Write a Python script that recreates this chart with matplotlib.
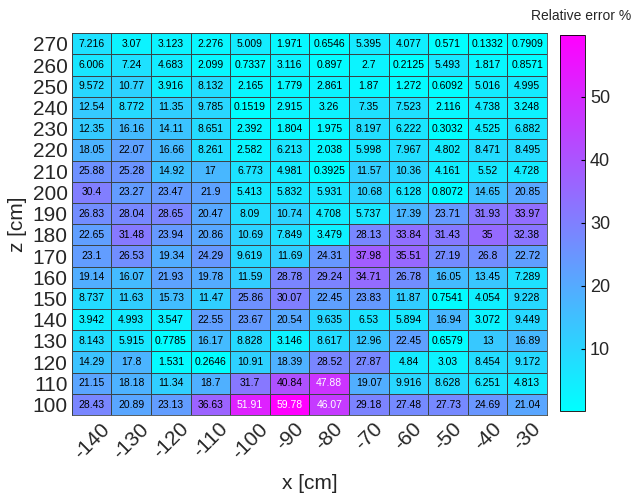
import numpy as np
import matplotlib.pyplot as plt

plt.rcParams['font.family'] = ['Liberation Sans', 'DejaVu Sans']

x_cm = [-140, -130, -120, -110, -100, -90, -80, -70, -60, -50, -40, -30]
z_cm = [100, 110, 120, 130, 140, 150, 160, 170, 180, 190, 200, 210, 220, 230, 240, 250, 260, 270]

# relative error per grid point, one list per z row (bottom to top)
err_100 = [28.43, 20.89, 23.13, 36.63, 51.91, 59.78, 46.07, 29.18, 27.48, 27.73, 24.69, 21.04]
err_110 = [21.15, 18.18, 11.34, 18.7, 31.7, 40.84, 47.88, 19.07, 9.916, 8.628, 6.251, 4.813]
err_120 = [14.29, 17.8, 1.531, 0.2646, 10.91, 18.39, 28.52, 27.87, 4.84, 3.03, 8.454, 9.172]
err_130 = [8.143, 5.915, 0.7785, 16.17, 8.828, 3.146, 8.617, 12.96, 22.45, 0.6579, 13, 16.89]
err_140 = [3.942, 4.993, 3.547, 22.55, 23.67, 20.54, 9.635, 6.53, 5.894, 16.94, 3.072, 9.449]
err_150 = [8.737, 11.63, 15.73, 11.47, 25.86, 30.07, 22.45, 23.83, 11.87, 0.7541, 4.054, 9.228]
err_160 = [19.14, 16.07, 21.93, 19.78, 11.59, 28.78, 29.24, 34.71, 26.78, 16.05, 13.45, 7.289]
err_170 = [23.1, 26.53, 19.34, 24.29, 9.619, 11.69, 24.31, 37.98, 35.51, 27.19, 26.8, 22.72]
err_180 = [22.65, 31.48, 23.94, 20.86, 10.69, 7.849, 3.479, 28.13, 33.84, 31.43, 35, 32.38]
err_190 = [26.83, 28.04, 28.65, 20.47, 8.09, 10.74, 4.708, 5.737, 17.39, 23.71, 31.93, 33.97]
err_200 = [30.4, 23.27, 23.47, 21.9, 5.413, 5.832, 5.931, 10.68, 6.128, 0.8072, 14.65, 20.85]
err_210 = [25.88, 25.28, 14.92, 17, 6.773, 4.981, 0.3925, 11.57, 10.36, 4.161, 5.52, 4.728]
err_220 = [18.05, 22.07, 16.66, 8.261, 2.582, 6.213, 2.038, 5.998, 7.967, 4.802, 8.471, 8.495]
err_230 = [12.35, 16.16, 14.11, 8.651, 2.392, 1.804, 1.975, 8.197, 6.222, 0.3032, 4.525, 6.882]
err_240 = [12.54, 8.772, 11.35, 9.785, 0.1519, 2.915, 3.26, 7.35, 7.523, 2.116, 4.738, 3.248]
err_250 = [9.572, 10.77, 3.916, 8.132, 2.165, 1.779, 2.861, 1.87, 1.272, 0.6092, 5.016, 4.995]
err_260 = [6.006, 7.24, 4.683, 2.099, 0.7337, 3.116, 0.897, 2.7, 0.2125, 5.493, 1.817, 0.8571]
err_270 = [7.216, 3.07, 3.123, 2.276, 5.009, 1.971, 0.6546, 5.395, 4.077, 0.571, 0.1332, 0.7909]

err = np.array([err_100, err_110, err_120, err_130, err_140, err_150, err_160, err_170, err_180,
                err_190, err_200, err_210, err_220, err_230, err_240, err_250, err_260, err_270])

txt_col = '#262626'

fig = plt.figure(figsize=(6.36, 4.96), dpi=100)
ax = fig.add_axes([0.113, 0.163, 0.747, 0.770])
cax = fig.add_axes([0.881, 0.172, 0.039, 0.757])

nx, nz = len(x_cm), len(z_cm)
mesh = ax.pcolormesh(np.arange(nx + 1) - 0.5, np.arange(nz + 1) - 0.5, err,
                     cmap='cool', vmin=err.min(), vmax=err.max(),
                     edgecolors='#3a4448', linewidth=0.55)

for i in range(nz):
    for j in range(nx):
        v = err[i, j]
        ax.text(j, i, f'{v:.4g}', ha='center', va='center', fontsize=7.5,
                color='white' if v > 45 else 'black')

ax.set_xlim(-0.5, nx - 0.5)
ax.set_ylim(-0.5, nz - 0.5)
ax.set_xticks(range(nx))
ax.set_xticklabels([str(v) for v in x_cm], rotation=45, fontsize=15)
ax.set_yticks(range(nz))
ax.set_yticklabels([str(v) for v in z_cm], fontsize=15)
ax.tick_params(length=0, pad=3, labelcolor=txt_col)
for s in ax.spines.values():
    s.set_color('#3a4448')
    s.set_linewidth(0.6)
ax.set_xlabel('x [cm]', fontsize=15, color=txt_col, labelpad=8)
ax.set_ylabel('z [cm]', fontsize=15, color=txt_col, labelpad=4)

cb = fig.colorbar(mesh, cax=cax)
cb.set_ticks([10, 20, 30, 40, 50])
cb.ax.tick_params(labelsize=13, length=3, direction='in', labelcolor=txt_col)
cb.outline.set_linewidth(0.6)
fig.text(0.914, 0.968, 'Relative error %', ha='center', va='center', fontsize=10, color=txt_col)

fig.savefig('out.png', dpi=100)
